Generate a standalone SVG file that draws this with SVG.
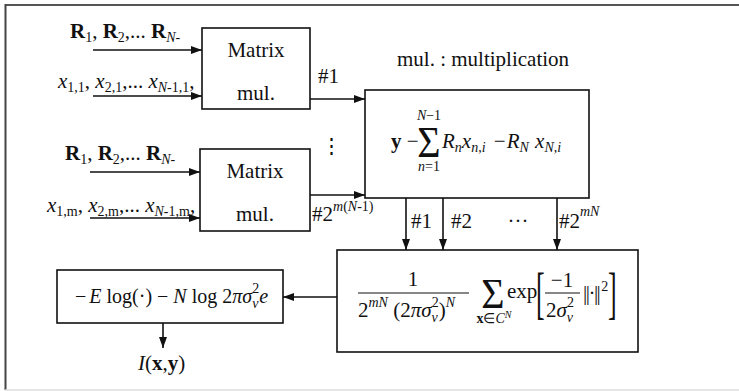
<svg xmlns="http://www.w3.org/2000/svg" width="739" height="391" viewBox="0 0 739 391">
<defs>
<marker id="ah" markerWidth="11" markerHeight="8" refX="11" refY="4" orient="auto" markerUnits="userSpaceOnUse">
<path d="M0,0 L11,4 L0,8 z" fill="#111"/>
</marker>
<style>
text{font-family:'Liberation Serif','Times New Roman',serif;fill:#111;font-size:21px}
.box{fill:#fff;stroke:#111;stroke-width:1.6}
.con line{stroke:#111;stroke-width:1.6;marker-end:url(#ah)}
.it{font-style:italic}
.b{font-weight:bold}
.s{font-size:14px}
.m{text-anchor:middle}
.sig{font-size:40px;text-anchor:middle}
</style>
</defs>
<rect width="739" height="391" fill="#fff"/>
<g id="frame">
<line x1="5" y1="5" x2="739" y2="5" stroke="#555" stroke-width="2"/>
<line x1="5.5" y1="4" x2="5.5" y2="390" stroke="#444" stroke-width="2"/>
<line x1="5" y1="390" x2="739" y2="390" stroke="#ddd" stroke-width="1.5"/>
</g>
<g class="con">
<line x1="93" y1="50" x2="202" y2="50"/>
<line x1="93" y1="96" x2="202" y2="96"/>
<line x1="310" y1="99" x2="365" y2="99"/>
<line x1="90" y1="172" x2="200" y2="172"/>
<line x1="90" y1="218" x2="200" y2="218"/>
<line x1="310" y1="195" x2="365" y2="195"/>
<line x1="406" y1="198" x2="406" y2="250"/>
<line x1="443" y1="198" x2="443" y2="250"/>
<line x1="557" y1="198" x2="557" y2="250"/>
<line x1="337" y1="297" x2="283" y2="297"/>
<line x1="163" y1="323" x2="163" y2="348"/>
</g>
<g id="inputs1">
<text x="70" y="38"><tspan class="b">R</tspan><tspan class="s" dy="4">1</tspan><tspan dy="-4">, </tspan><tspan class="b">R</tspan><tspan class="s" dy="4">2</tspan><tspan dy="-4">,... </tspan><tspan class="b">R</tspan><tspan class="s it" dy="4">N-</tspan></text>
<text x="58" y="88"><tspan class="it">x</tspan><tspan class="s" dy="4">1,1</tspan><tspan dy="-4">, </tspan><tspan class="it">x</tspan><tspan class="s" dy="4">2,1</tspan><tspan dy="-4">,... </tspan><tspan class="it">x</tspan><tspan class="s" dy="4"><tspan class="it">N</tspan>-1,1</tspan><tspan dy="-4">,</tspan></text>
</g>
<g id="inputs2">
<text x="65" y="160"><tspan class="b">R</tspan><tspan class="s" dy="4">1</tspan><tspan dy="-4">, </tspan><tspan class="b">R</tspan><tspan class="s" dy="4">2</tspan><tspan dy="-4">,... </tspan><tspan class="b">R</tspan><tspan class="s it" dy="4">N-</tspan></text>
<text x="47" y="212"><tspan class="it">x</tspan><tspan class="s" dy="4">1,m</tspan><tspan dy="-4">, </tspan><tspan class="it">x</tspan><tspan class="s" dy="4">2,m</tspan><tspan dy="-4">,... </tspan><tspan class="it">x</tspan><tspan class="s" dy="4"><tspan class="it">N</tspan>-1,m</tspan><tspan dy="-4">,</tspan></text>
</g>
<g id="matmul1">
<rect class="box" x="202" y="28" width="108" height="81"/>
<text class="m" x="256" y="57">Matrix</text>
<text class="m" x="256" y="100">mul.</text>
</g>
<g id="matmul2">
<rect class="box" x="200" y="149" width="110" height="82"/>
<text class="m" x="255" y="178">Matrix</text>
<text class="m" x="255" y="221">mul.</text>
</g>
<g id="labels">
<text x="318" y="83">#1</text>
<text x="312" y="221">#2<tspan class="s" dy="-10"><tspan class="it">m</tspan>(<tspan class="it">N</tspan>-1)</tspan></text>
<text x="331" y="153" class="m">⋮</text>
<text x="397" y="66">mul. : multiplication</text>
<text x="411" y="228">#1</text>
<text x="451" y="228">#2</text>
<text x="518" y="228" class="m">···</text>
<text x="559" y="228">#2<tspan class="s it" dy="-12">mN</tspan></text>
</g>
<g id="residual">
<rect class="box" x="365" y="90" width="224" height="108"/>
<text x="391" y="148"><tspan class="b">y</tspan> −</text>
<text class="sig" transform="translate(429,157) scale(1,1.12)">Σ</text>
<text x="429" y="120" class="m s"><tspan class="it">N</tspan>−1</text>
<text x="429" y="171" class="m s"><tspan class="it">n</tspan>=1</text>
<text x="442" y="148"><tspan class="it">R</tspan><tspan class="s it" dy="4">n</tspan><tspan class="it" dy="-4">x</tspan><tspan class="s" dy="4"><tspan class="it">n</tspan>,<tspan class="it">i</tspan></tspan><tspan dx="3" dy="-4"> −</tspan><tspan class="it" dx="1">R</tspan><tspan class="s it" dy="4">N</tspan><tspan class="it" dx="1" dy="-4"> x</tspan><tspan class="s" dy="4"><tspan class="it">N</tspan>,<tspan class="it">i</tspan></tspan></text>
</g>
<g id="likelihood">
<rect class="box" x="337" y="250" width="301" height="102"/>
<text x="413" y="286" class="m">1</text>
<line x1="358" y1="293" x2="469" y2="293" stroke="#111" stroke-width="1.2"/>
<text x="358" y="317">2<tspan class="s it" dy="-10">mN</tspan><tspan dy="10"> (2</tspan><tspan class="it">πσ</tspan><tspan class="s it" dy="5">v</tspan><tspan class="s" dx="-6" dy="-15">2</tspan><tspan dy="10">)</tspan><tspan class="s it" dy="-10">N</tspan></text>
<text class="sig" transform="translate(493,308) scale(1,1.05)">Σ</text>
<text x="494" y="323" class="m s"><tspan class="b">x</tspan>∈<tspan class="it">C</tspan><tspan dy="-5" style="font-size:10px" class="it">N</tspan></text>
<text x="507" y="298">exp</text>
<text transform="translate(536,312) scale(1,2.2)" style="font-size:26px">[</text>
<text x="562" y="287" class="m">−1</text>
<line x1="545" y1="293" x2="580" y2="293" stroke="#111" stroke-width="1.2"/>
<text x="546" y="317">2<tspan class="it">σ</tspan><tspan class="s it" dy="5">v</tspan><tspan class="s" dx="-6" dy="-15">2</tspan></text>
<text x="583" y="300" style="letter-spacing:-1.5px">||·||<tspan class="s" dx="2" dy="-9">2</tspan></text>
<text transform="translate(608,312) scale(1,2.2)" style="font-size:26px">]</text>
</g>
<g id="capacity">
<rect class="box" x="57" y="270" width="226" height="53"/>
<text x="75" y="303" style="font-size:20px">−<tspan class="it" dx="3">E</tspan> log(·) − <tspan class="it">N</tspan> log 2<tspan class="it">πσ</tspan><tspan class="s it" dy="5">v</tspan><tspan class="s" dx="-6" dy="-15">2</tspan><tspan class="it" dy="10">e</tspan></text>
</g>
<g id="output">
<text x="138" y="370"><tspan class="it">I</tspan>(<tspan class="b">x</tspan>,<tspan class="b">y</tspan>)</text>
</g>
</svg>
